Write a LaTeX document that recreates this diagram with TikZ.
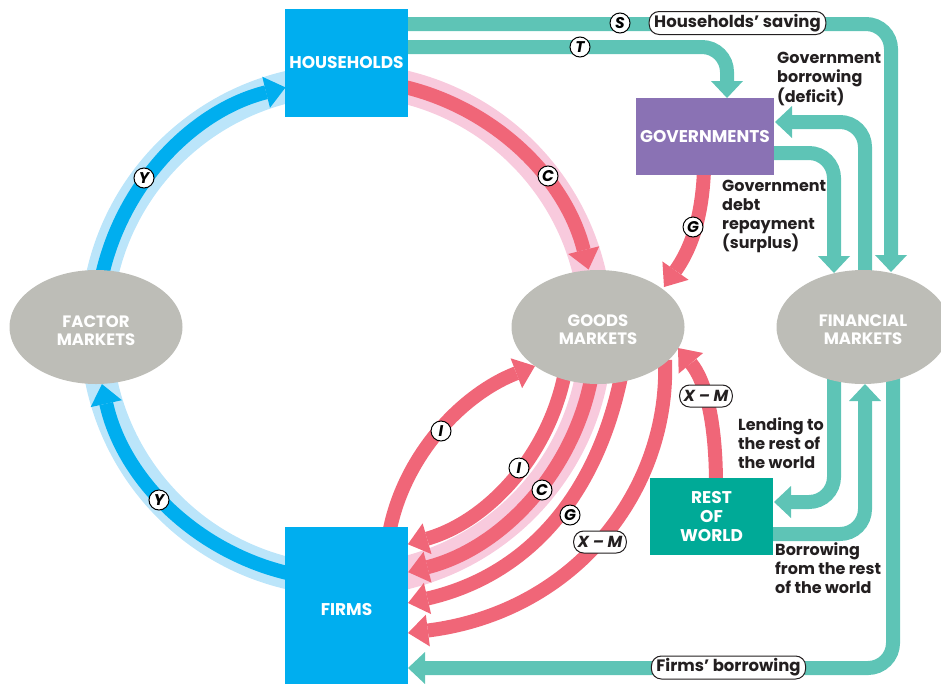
\documentclass[tikz,border=0pt]{standalone}
\usepackage{fontspec}
\setmainfont{Poppins}
\usetikzlibrary{arrows.meta,shapes.geometric}
\definecolor{cblue}{HTML}{00AEEF}
\definecolor{clblue}{HTML}{BBE5FA}
\definecolor{cred}{HTML}{F06678}
\definecolor{cpink}{HTML}{F8CADD}
\definecolor{cteal}{HTML}{5EC4B6}
\definecolor{cgray}{HTML}{BDBDB7}
\definecolor{cpurple}{HTML}{8A72B4}
\definecolor{crow}{HTML}{00AA97}
\definecolor{ctext}{HTML}{231F20}
\pgfdeclarelayer{bg}
\pgfsetlayers{bg,main}
\tikzset{
  tipA/.tip={Triangle[width=32pt,length=20pt,line width=0pt]},
  tipT/.tip={Triangle[width=32pt,length=17pt,line width=0pt]},
  bflow/.style={draw=cblue,line width=14pt,-tipA},
  bhalo/.style={draw=clblue,line width=32pt},
  rflow/.style={draw=cred,line width=14pt,-tipA},
  rhalo/.style={draw=cpink,line width=33pt},
  tflow/.style={draw=cteal,line width=14pt,-tipT,rounded corners=25pt},
  box/.style={rectangle,inner sep=0pt,text=white,align=center,font=\bfseries\fontsize{17}{19}\selectfont},
  mkt/.style={ellipse,fill=cgray,inner sep=0pt,minimum width=173pt,minimum height=114pt},
  mkttxt/.style={inner sep=0pt,text=white,align=center,font=\bfseries\fontsize{16.5}{18}\selectfont},
  lbl/.style={circle,draw=black,line width=1pt,fill=white,inner sep=0pt,minimum size=20pt,font=\bfseries\itshape\fontsize{15.5}{15.5}\selectfont},
  pill/.style={rectangle,rounded corners=10pt,draw=ctext,line width=1pt,fill=white,inner xsep=5pt,inner ysep=0pt,minimum height=23pt,text=ctext,font=\bfseries\fontsize{16.5}{16.5}\selectfont},
  xmpill/.style={pill,font=\bfseries\itshape\fontsize{16}{16}\selectfont,minimum height=22pt,inner xsep=4pt},
  txt/.style={align=left,inner sep=0pt,font=\bfseries\fontsize{16}{19}\selectfont,text=ctext}
}
\begin{document}
\begin{tikzpicture}[x=1pt,y=-1pt]
\useasboundingbox (0,0) rectangle (941,683);
\coordinate (ctr) at (346,330);
% boxes and markets
\node[box,fill=cblue,minimum width=123pt,minimum height=108pt] (hh) at (346.5,63) {HOUSEHOLDS};
\node[box,fill=cblue,minimum width=123pt,minimum height=164pt] (firms) at (346.5,609) {FIRMS};
\node[box,fill=cpurple,minimum width=138pt,minimum height=77pt] (gov) at (705,136.5) {GOVERNMENTS};
\node[box,fill=crow,minimum width=123pt,minimum height=77pt] (row) at (711.5,516.5) {REST\\OF\\WORLD};
\node[mkt] (factor) at (96,327) {};
\node[mkt] (goods) at (598,327) {};
\node[mkt] (fin) at (863,327) {};
\node[mkttxt] (factortxt) at (96,331) {FACTOR\\MARKETS};
\node[mkttxt] (goodstxt) at (598,330) {GOODS\\MARKETS};
\node[mkttxt] (fintxt) at (863,330) {FINANCIAL\\MARKETS};
\begin{pgfonlayer}{bg}
% halos
\draw[bhalo] ([shift={(190:250)}]ctr) arc[start angle=190,end angle=262,radius=250];
\draw[bhalo] ([shift={(98:250)}]ctr) arc[start angle=98,end angle=172,radius=250];
\draw[rhalo] ([shift={(278:250)}]ctr) arc[start angle=278,end angle=350,radius=250];
\draw[rhalo] ([shift={(8:250)}]ctr) arc[start angle=8,end angle=80,radius=250];
% teal flows
\draw[tflow] (400,24) -- (891,24) -- (891,272);
\draw[tflow] (400,47) -- (727,47) -- (727,98);
\draw[tflow] (865,285) -- (865,122) -- (775,122);
\draw[tflow] (765,153) -- (834,153) -- (834,273);
\draw[tflow] (834,372) -- (834,502) -- (774,502);
\draw[tflow] (765,534) -- (865,534) -- (865,384);
\draw[tflow] (893,372) -- (893,668) -- (408,668);
% blue flows
\draw[bflow] ([shift={(192:250)}]ctr) arc[start angle=192,end angle=256,radius=250];
\draw[bflow] ([shift={(100:250)}]ctr) arc[start angle=100,end angle=167.5,radius=250];
% red flows
\draw[rflow] ([shift={(280:250)}]ctr) arc[start angle=280,end angle=346,radius=250];
\draw[rflow] ([shift={(10:223)}]ctr) arc[start angle=10,end angle=73.9,radius=223];
\draw[rflow] ([shift={(10:250)}]ctr) arc[start angle=10,end angle=75.6,radius=250];
\draw[rflow] (622,372) .. controls (598,494) and (529,575) .. (408,603);
\draw[rflow] (665,360) .. controls (670,490) and (575,612) .. (408,633);
\draw[rflow] (388,540) .. controls (400,460) and (460,395) .. (535,366);
\draw[rflow] (704,170) .. controls (702,220) and (690,250) .. (664,287);
\draw[rflow] (716,485) .. controls (716,420) and (705,380) .. (678,348);
\end{pgfonlayer}
% labels
\node[lbl] (y1) at (144,178) {Y};
\node[lbl] (y2) at (159,500) {Y};
\node[lbl] (c1) at (548,176) {C};
\node[lbl] (g1) at (693,227) {G};
\node[lbl] (t1) at (580,47) {T};
\node[lbl] (s1) at (620,23) {S};
\node[lbl] (i1) at (441,431) {I};
\node[lbl] (i2) at (519,468) {I};
\node[lbl] (c2) at (542,490) {C};
\node[lbl] (g2) at (570,515) {G};
\node[xmpill] (xm1) at (600,542) {X – M};
\node[xmpill] (xm2) at (706,396) {X – M};
\node[pill] (hs) at (737.5,23) {Households’ saving};
\node[pill] (fb) at (728.5,667.5) {Firms’ borrowing};
% text
\node[txt,anchor=north west] (t_gb) at (777,52) {Government\\borrowing\\(deficit)};
\node[txt,anchor=north west] (t_dr) at (722,180) {Government\\debt\\repayment\\(surplus)};
\node[txt,anchor=north west] (t_len) at (738,417) {Lending to\\the rest of\\the world};
\node[txt,anchor=north west] (t_bor) at (775,542) {Borrowing\\from the rest\\of the world};
\end{tikzpicture}
\end{document}
